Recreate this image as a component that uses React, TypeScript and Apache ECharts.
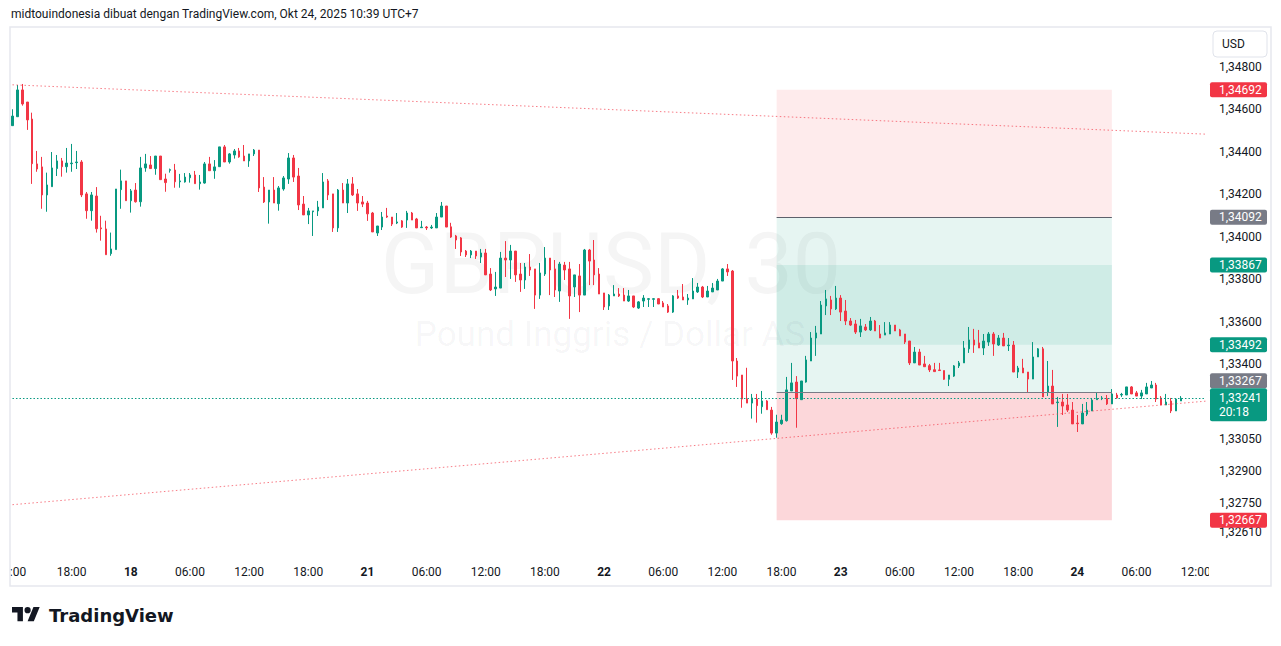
import React, { useEffect, useRef } from "react";
import * as echarts from "echarts";

const HEADER_TEXT = "midtouindonesia dibuat dengan TradingView.com, Okt 24, 2025 10:39 UTC+7";
const WATERMARK_SYMBOL = "GBPUSD, 30";
const WATERMARK_NAME = "Pound Inggris / Dollar AS";
const CURRENCY = "USD";
const COUNTDOWN = "20:18";
const BRAND = "TradingView";

// 30-minute bars, [open, close, low, high] in points (1 point = 0.00001)
const OCT17_BARS = [
  [134523, 134568, 134523, 134600], [134565, 134691, 134565, 134714], [134691, 134625, 134617, 134719], [134634, 134550, 134503, 134634],
  [134554, 134344, 134249, 134584], [134343, 134319, 134306, 134404], [134329, 134197, 134132, 134376], [134197, 134244, 134118, 134302],
  [134236, 134324, 134236, 134399], [134321, 134357, 134286, 134385], [134357, 134330, 134283, 134371], [134330, 134347, 134302, 134418],
  [134344, 134347, 134306, 134437], [134349, 134352, 134319, 134404], [134352, 134197, 134187, 134361], [134202, 134123, 134085, 134211],
  [134123, 134197, 134076, 134211], [134192, 134038, 134020, 134234], [134042, 134038, 133982, 134099], [134037, 133916, 133916, 134076],
  [133921, 133943, 133911, 134020], [133940, 134225, 133940, 134225], [134222, 134263, 134132, 134316], [134263, 134170, 134170, 134263],
];
const OCT18_BARS = [
  [134170, 134216, 134114, 134225], [134220, 134165, 134161, 134253], [134165, 134324, 134142, 134376], [134324, 134343, 134306, 134390],
  [134338, 134321, 134321, 134380], [134321, 134380, 134292, 134380], [134380, 134269, 134269, 134380], [134272, 134255, 134212, 134297],
];
const OCT20_BARS = [
  [134313, 134316, 134302, 134321], [134314, 134259, 134231, 134343], [134259, 134263, 134231, 134296], [134258, 134281, 134255, 134300],
  [134278, 134291, 134255, 134300], [134291, 134250, 134250, 134310], [134250, 134258, 134222, 134291], [134253, 134343, 134250, 134352],
  [134343, 134311, 134311, 134376], [134311, 134329, 134273, 134361], [134330, 134423, 134330, 134423], [134423, 134352, 134352, 134432],
  [134352, 134390, 134344, 134394], [134385, 134404, 134368, 134413], [134404, 134376, 134372, 134418], [134380, 134357, 134357, 134432],
  [134357, 134390, 134329, 134390], [134390, 134408, 134380, 134413], [134408, 134230, 134211, 134408], [134234, 134164, 134159, 134281],
  [134164, 134220, 134062, 134220], [134220, 134159, 134159, 134281], [134156, 134230, 134123, 134239], [134225, 134277, 134217, 134286],
  [134272, 134371, 134249, 134394], [134371, 134281, 134258, 134385], [134286, 134150, 134126, 134324], [134154, 134103, 134103, 134192],
  [134103, 134122, 134060, 134136], [134118, 134122, 134004, 134122], [134122, 134140, 134098, 134169], [134136, 134258, 134136, 134300],
  [134263, 134197, 134173, 134272], [134202, 134042, 134023, 134202], [134042, 134220, 134023, 134225], [134220, 134159, 134159, 134253],
  [134159, 134249, 134112, 134272], [134249, 134197, 134192, 134281], [134202, 134159, 134122, 134225], [134164, 134154, 134140, 134192],
];
const OCT21_BARS = [
  [134159, 134108, 134075, 134169], [134112, 134023, 134023, 134117], [134018, 134051, 134004, 134051], [134046, 134093, 134032, 134117],
  [134098, 134093, 134089, 134136], [134093, 134060, 134051, 134093], [134065, 134070, 134060, 134112], [134075, 134046, 134042, 134079],
  [134079, 134112, 134042, 134122], [134112, 134079, 134079, 134117], [134084, 134042, 134042, 134089], [134043, 134046, 134042, 134075],
  [134046, 134042, 134032, 134051], [134042, 134046, 134037, 134056], [134042, 134093, 134042, 134112], [134093, 134145, 134093, 134164],
  [134145, 134046, 134046, 134145], [134047, 133999, 133995, 134066], [134004, 133985, 133943, 134009], [133995, 133929, 133910, 133999],
  [133933, 133915, 133905, 133938], [133915, 133933, 133900, 133938], [133933, 133910, 133896, 133933], [133905, 133924, 133877, 133943],
  [133924, 133821, 133821, 133943], [133825, 133750, 133745, 133853], [133755, 133764, 133722, 133835], [133759, 133900, 133759, 133929],
  [133900, 133891, 133811, 133980], [133891, 133933, 133802, 133962], [133933, 133821, 133788, 133933], [133825, 133797, 133741, 133877],
  [133797, 133858, 133755, 133877], [133858, 133844, 133816, 133919], [133849, 133726, 133661, 133849], [133726, 133830, 133708, 133877],
  [133825, 133900, 133816, 133952], [133900, 133844, 133726, 133900], [133849, 133750, 133717, 133891], [133745, 133872, 133694, 133882],
  [133867, 133844, 133797, 133882], [133849, 133722, 133614, 133882], [133764, 133821, 133717, 133821], [133816, 133726, 133646, 133872],
  [133726, 133938, 133726, 133943], [133938, 133886, 133773, 133943], [133891, 133821, 133773, 133985], [133825, 133731, 133731, 133853],
];
const OCT22_BARS = [
  [133736, 133670, 133656, 133736], [133675, 133726, 133656, 133731], [133722, 133731, 133722, 133773], [133731, 133722, 133717, 133759],
  [133726, 133698, 133698, 133759], [133698, 133722, 133694, 133750], [133722, 133670, 133665, 133722], [133665, 133694, 133661, 133698],
  [133698, 133712, 133670, 133726], [133706, 133709, 133670, 133712], [133706, 133709, 133670, 133712], [133709, 133684, 133684, 133712],
  [133689, 133670, 133670, 133698], [133675, 133646, 133642, 133684], [133646, 133722, 133642, 133726], [133722, 133712, 133708, 133750],
  [133717, 133703, 133703, 133778], [133703, 133712, 133680, 133731], [133708, 133745, 133708, 133806], [133741, 133764, 133736, 133783],
  [133764, 133717, 133712, 133769], [133717, 133745, 133717, 133769], [133741, 133759, 133741, 133783], [133750, 133792, 133750, 133802],
  [133792, 133849, 133792, 133853], [133849, 133835, 133816, 133872], [133839, 133416, 133327, 133844], [133416, 133345, 133294, 133430],
  [133350, 133237, 133196, 133350], [133237, 133218, 133218, 133384], [133218, 133242, 133145, 133261], [133237, 133206, 133126, 133261],
  [133201, 133228, 133168, 133275], [133228, 133187, 133187, 133232], [133185, 133077, 133069, 133200], [133077, 133129, 133055, 133163],
  [133121, 133138, 133116, 133163], [133135, 133280, 133131, 133341], [133275, 133313, 133275, 133407], [133317, 133239, 133102, 133345],
  [133234, 133322, 133234, 133322], [133317, 133421, 133314, 133440], [133416, 133524, 133416, 133552], [133524, 133548, 133440, 133581],
  [133543, 133679, 133543, 133698], [133675, 133708, 133632, 133750], [133703, 133661, 133632, 133722], [133661, 133712, 133656, 133769],
];
const OCT23_BARS = [
  [133712, 133646, 133604, 133726], [133651, 133604, 133585, 133703], [133604, 133585, 133581, 133618], [133590, 133552, 133543, 133609],
  [133552, 133581, 133529, 133614], [133576, 133562, 133557, 133590], [133562, 133604, 133557, 133623], [133604, 133557, 133557, 133609],
  [133543, 133524, 133524, 133585], [133538, 133548, 133538, 133599], [133543, 133585, 133543, 133599], [133585, 133557, 133557, 133585],
  [133562, 133534, 133534, 133567], [133543, 133505, 133496, 133543], [133510, 133407, 133397, 133510], [133407, 133458, 133407, 133482],
  [133458, 133397, 133397, 133473], [133402, 133389, 133389, 133440], [133394, 133374, 133364, 133402], [133375, 133366, 133366, 133407],
  [133374, 133371, 133369, 133407], [133371, 133330, 133327, 133371], [133330, 133350, 133298, 133350], [133345, 133393, 133341, 133397],
  [133393, 133407, 133383, 133416], [133407, 133477, 133407, 133510], [133473, 133515, 133454, 133576], [133515, 133491, 133454, 133567],
  [133501, 133477, 133477, 133562], [133477, 133510, 133444, 133543], [133505, 133543, 133487, 133552], [133543, 133496, 133440, 133552],
  [133491, 133524, 133487, 133538], [133524, 133487, 133487, 133548], [133488, 133491, 133463, 133524], [133491, 133364, 133364, 133510],
  [133364, 133383, 133336, 133393], [133383, 133360, 133360, 133426], [133364, 133331, 133266, 133364], [133331, 133435, 133331, 133505],
  [133435, 133473, 133435, 133477], [133473, 133247, 133247, 133482], [133270, 133298, 133251, 133416], [133298, 133214, 133214, 133374],
  [133220, 133223, 133106, 133247], [133223, 133204, 133162, 133261], [133209, 133185, 133176, 133261], [133185, 133120, 133120, 133223],
];
const OCT24_BARS = [
  [133124, 133121, 133082, 133162], [133120, 133171, 133120, 133214], [133166, 133185, 133157, 133223], [133181, 133232, 133181, 133242],
  [133234, 133239, 133234, 133266], [133239, 133242, 133232, 133251], [133239, 133214, 133209, 133256], [133214, 133261, 133214, 133284],
  [133256, 133242, 133239, 133266], [133256, 133259, 133247, 133266], [133256, 133294, 133256, 133294], [133294, 133261, 133261, 133298],
  [133266, 133251, 133251, 133275], [133251, 133266, 133237, 133280], [133261, 133294, 133261, 133313], [133289, 133303, 133289, 133322],
  [133303, 133237, 133223, 133313], [133242, 133209, 133209, 133251], [133209, 133223, 133209, 133261], [133228, 133181, 133171, 133242],
  [133181, 133237, 133181, 133237], [133228, 133241, 133228, 133251],
];

// trading sessions: [day of month, first bar (minutes after midnight), bars]
const SESSIONS: [number, number, number[][]][] = [
  [17, 12 * 60, OCT17_BARS],
  [18, 0, OCT18_BARS],
  [20, 4 * 60, OCT20_BARS],
  [21, 0, OCT21_BARS],
  [22, 0, OCT22_BARS],
  [23, 0, OCT23_BARS],
  [24, 0, OCT24_BARS],
];
const FUTURE_SLOTS = ["24 11:00", "24 11:30", "24 12:00", "24 12:30", "24 13:00"];
// the first time label is cut by the pane edge in the reference; only its tail shows
const FIRST_LABEL_TAIL = ":00";

const PRICE_TICKS = [1.348, 1.346, 1.344, 1.342, 1.34, 1.338, 1.336, 1.334, 1.3305, 1.329, 1.3275, 1.3261];
const PRICE_RANGE = [1.32494, 1.34987];

const UPPER_TREND = [1.34715, 1.34483];
const LOWER_TREND = [1.3274, 1.33227];
const CURRENT_PRICE = 1.33241;

// position tool: first and last bar index, price levels
const POSITION_BARS = [155, 223];
const POSITION_PRICES = [1.34692, 1.34092, 1.33867, 1.33492, 1.33267, 1.32667];

const PRICE_BADGES: [number, string][] = [
  [1.34692, "#f23645"],
  [1.34092, "#787b86"],
  [1.33867, "#089981"],
  [1.33492, "#089981"],
  [1.33267, "#787b86"],
  [1.32667, "#f23645"],
];

const UP = "#089981";
const DOWN = "#f23645";
const TEXT = "#131722";
const FONT = "Roboto, 'Noto Sans', sans-serif";

const TV_LOGO_PATH = "M14 22H7V11H0V4h14v18ZM28 22h-8l7.5-18h8L28 22ZM24 8a4 4 0 1 1-8 0a4 4 0 1 1 8 0Z";

const pad = (n: number) => (n < 10 ? "0" + n : "" + n);
const fmtPrice = (v: number) => v.toFixed(5).replace(".", ",");

export default function App() {
  const ref = useRef<HTMLDivElement>(null);

  useEffect(() => {
    if (!ref.current) return;
    try {
      echarts.graphic.registerShape("tvlogo", echarts.graphic.extendPath(TV_LOGO_PATH, {}) as any);
    } catch (e) {}

    const categories: string[] = [];
    const candles: number[][] = [];
    SESSIONS.forEach(([day, start, bars]) => {
      bars.forEach((b, j) => {
        const m = start + 30 * j;
        categories.push(`${day} ${pad(Math.floor(m / 60))}:${pad(m % 60)}`);
        candles.push(b.map((v) => v / 1e5));
      });
    });
    FUTURE_SLOTS.forEach((s) => categories.push(s));
    const firstCat = categories[0];
    const lastCat = categories[categories.length - 1];

    const isLabel = (v: string) => {
      const [, t] = v.split(" ");
      const [h, mm] = t.split(":").map(Number);
      return mm === 0 && h % 6 === 0;
    };
    const fmtLabel = (v: string, i: number) => {
      const [d, t] = v.split(" ");
      if (i === 0) return `{cut|${FIRST_LABEL_TAIL}}`;
      return t === "00:00" ? `{d|${d}}` : t;
    };

    const c0 = categories[POSITION_BARS[0]];
    const c1 = categories[POSITION_BARS[1]];
    const [pTarget, pMid, pZoneTop, pZoneBottom, pEntry, pStop] = POSITION_PRICES;

    const chart = echarts.init(ref.current, undefined, { renderer: "svg" });
    chart.setOption({
      animation: false,
      backgroundColor: "#ffffff",
      grid: { left: 10, right: 73, top: 27, bottom: 89, containLabel: false, outerBoundsMode: "none" },
      xAxis: {
        type: "category",
        data: categories,
        boundaryGap: true,
        axisLine: { show: false },
        axisTick: { show: false },
        splitLine: { show: false },
        axisLabel: {
          interval: (i: number, v: string) => isLabel(v),
          formatter: (v: string, i: number) => fmtLabel(v, i),
          color: TEXT,
          fontSize: 12,
          fontFamily: FONT,
          margin: 9,
          rich: {
            d: { fontWeight: "bold", fontSize: 12, color: TEXT, fontFamily: FONT },
            cut: { fontSize: 12, color: TEXT, fontFamily: FONT, padding: [0, 0, 0, 11] },
          },
        },
      },
      yAxis: {
        type: "value",
        position: "right",
        min: PRICE_RANGE[0],
        max: PRICE_RANGE[1],
        axisLine: { show: false },
        axisTick: { show: false },
        splitLine: { show: false },
        axisLabel: {
          customValues: PRICE_TICKS,
          formatter: (v: number) => fmtPrice(v),
          color: TEXT,
          fontSize: 12,
          fontFamily: FONT,
          margin: 11,
        },
      },
      series: [
        {
          type: "candlestick",
          data: candles,
          barWidth: 2,
          itemStyle: { color: UP, color0: DOWN, borderColor: UP, borderColor0: DOWN, borderWidth: 1 },
          markArea: {
            silent: true,
            label: { show: false },
            data: [
              [{ xAxis: c0, yAxis: pTarget, itemStyle: { color: "rgba(242,54,69,0.1)" } }, { xAxis: c1, yAxis: pMid }],
              [{ xAxis: c0, yAxis: pMid, itemStyle: { color: "rgba(8,153,129,0.1)" } }, { xAxis: c1, yAxis: pEntry }],
              [{ xAxis: c0, yAxis: pZoneTop, itemStyle: { color: "rgba(8,153,129,0.1)" } }, { xAxis: c1, yAxis: pZoneBottom }],
              [{ xAxis: c0, yAxis: pEntry, itemStyle: { color: "rgba(242,54,69,0.2)" } }, { xAxis: c1, yAxis: pStop }],
            ],
          },
          markLine: {
            silent: true,
            symbol: ["none", "none"],
            label: { show: false },
            data: [
              [
                { coord: [firstCat, CURRENT_PRICE], lineStyle: { color: UP, type: [1.5, 2], width: 1 } },
                { coord: [lastCat, CURRENT_PRICE] },
              ],
              [
                { coord: [firstCat, UPPER_TREND[0]], lineStyle: { color: "rgba(242,54,69,0.65)", type: [1.5, 2.5], width: 1 } },
                { coord: [lastCat, UPPER_TREND[1]] },
              ],
              [
                { coord: [firstCat, LOWER_TREND[0]], lineStyle: { color: "rgba(242,54,69,0.65)", type: [1.5, 2.5], width: 1 } },
                { coord: [lastCat, LOWER_TREND[1]] },
              ],
              [
                { coord: [c0, pMid], lineStyle: { color: "#5d606b", type: "solid", width: 1 } },
                { coord: [c1, pMid] },
              ],
              [
                { coord: [c0, pEntry], lineStyle: { color: "#787b86", type: "solid", width: 1 } },
                { coord: [c1, pEntry] },
              ],
            ],
          },
        },
      ],
    });

    const py = (v: number) => chart.convertToPixel({ yAxisIndex: 0 }, v) as number;
    const curY = py(CURRENT_PRICE);
    const curTop = curY - 10;
    const curBottom = curY + 23;
    const badgeH = 15;

    const badges: any[] = [];
    PRICE_BADGES.forEach(([p, color]) => {
      let cy = py(p);
      if (cy + badgeH / 2 > curTop && cy - badgeH / 2 < curBottom) cy = curTop - badgeH / 2;
      badges.push(
        { type: "rect", z: 100, shape: { x: 1210, y: cy - badgeH / 2, width: 57, height: badgeH, r: 2 }, style: { fill: color } },
        { type: "text", z: 101, x: 1219, y: cy, style: { text: fmtPrice(p), fill: "#ffffff", font: `12px ${FONT}`, verticalAlign: "middle", align: "left" } }
      );
    });
    badges.push(
      { type: "rect", z: 100, shape: { x: 1210, y: curTop, width: 57, height: curBottom - curTop, r: 2 }, style: { fill: UP } },
      { type: "text", z: 101, x: 1219, y: curY, style: { text: fmtPrice(CURRENT_PRICE), fill: "#ffffff", font: `12px ${FONT}`, verticalAlign: "middle" } },
      { type: "text", z: 101, x: 1219, y: curY + 14, style: { text: COUNTDOWN, fill: "#ffffff", font: `12px ${FONT}`, verticalAlign: "middle" } }
    );

    chart.setOption({
      graphic: {
        elements: [
          { type: "text", z: -10, x: 611, y: 263, style: { text: WATERMARK_SYMBOL, fill: "rgba(19,23,34,0.045)", font: `86px ${FONT}`, align: "center", verticalAlign: "middle" } },
          { type: "text", z: -10, x: 610, y: 334, style: { text: WATERMARK_NAME, fill: "rgba(19,23,34,0.045)", font: `35px ${FONT}`, align: "center", verticalAlign: "middle" } },
          { type: "text", z: 100, x: 11, y: 14, style: { text: HEADER_TEXT, fill: TEXT, font: `12px ${FONT}`, verticalAlign: "middle" } },
          // clip the last time label at the price-scale edge
          { type: "rect", z: 90, shape: { x: 1209, y: 558, width: 62, height: 27 }, style: { fill: "#ffffff" } },
          // frame
          { type: "rect", z: 95, shape: { x: 10, y: 27, width: 1261, height: 559 }, style: { fill: "none", stroke: "#e6e8ee", lineWidth: 1.5 } },
          // currency button
          { type: "rect", z: 100, shape: { x: 1213, y: 31, width: 54, height: 26, r: 4 }, style: { fill: "#ffffff", stroke: "#e0e3eb", lineWidth: 1 } },
          { type: "text", z: 101, x: 1222, y: 44, style: { text: CURRENCY, fill: TEXT, font: `12px ${FONT}`, verticalAlign: "middle" } },
          // brand
          { type: "tvlogo", z: 100, x: 12, y: 604, scaleX: 0.78, scaleY: 0.78, style: { fill: TEXT } },
          { type: "text", z: 100, x: 49, y: 615, style: { text: BRAND, fill: TEXT, font: `bold 18px 'DejaVu Sans', sans-serif`, verticalAlign: "middle" } },
          ...badges,
        ],
      },
    });

    return () => chart.dispose();
  }, []);

  return <div ref={ref} style={{ position: "absolute", left: 0, top: 0, width: 1281, height: 646, background: "#fff" }} />;
}
